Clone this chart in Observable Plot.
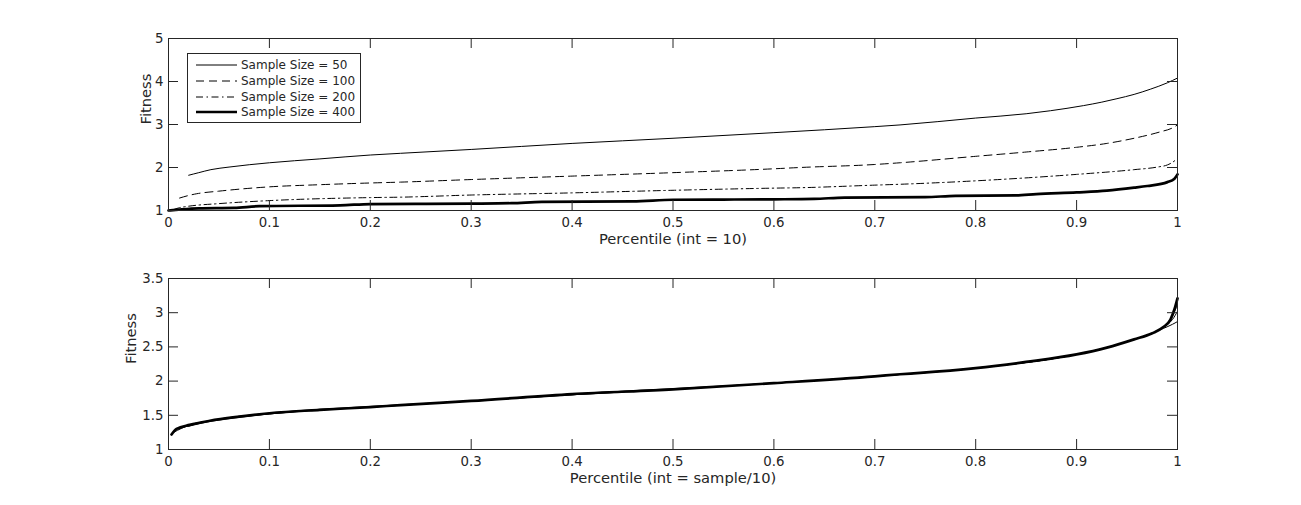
<!DOCTYPE html>
<html>
<head>
<meta charset="utf-8">
<script src="https://cdn.jsdelivr.net/npm/d3@7"></script>
<script src="https://cdn.jsdelivr.net/npm/@observablehq/plot@0.6"></script>
<style>
  html, body { margin: 0; padding: 0; background: #fff; }
  #wrap { position: relative; width: 1301px; height: 505px; background: #fff; overflow: hidden; font-family: "DejaVu Sans", sans-serif; }
  #wrap > svg { position: absolute; left: 0; }
  #legend { position: absolute; background: #fff; border: 1px solid #262626; box-sizing: border-box; }
  .row { position: absolute; left: 0; height: 16px; width: 100%; }
  .row svg { position: absolute; left: 7px; top: 0; }
  .row span { position: absolute; left: 53px; top: 0; line-height: 16px; font-size: 12px; color: #262626; white-space: nowrap; }
</style>
</head>
<body>
<div id="wrap"></div>
<script>
// ---------- data ----------
const seriesNames = ["Sample Size = 50", "Sample Size = 100", "Sample Size = 200", "Sample Size = 400"];

// Top panel (int = 10)
const pct50  = [0.02,0.03,0.042,0.06,0.1,0.15,0.2,0.23,0.3,0.4,0.5,0.6,0.7,0.725,0.8,0.85,0.874,0.907,0.925,0.94,0.957,0.973,0.99,1.0];
const fit50  = [1.82,1.88,1.95,2.01,2.11,2.2,2.29,2.33,2.42,2.56,2.68,2.81,2.95,2.99,3.15,3.25,3.32,3.44,3.52,3.60,3.70,3.82,3.97,4.08];
const pct100 = [0.011,0.02,0.028,0.05,0.1,0.15,0.2,0.23,0.3,0.4,0.5,0.6,0.626,0.7,0.725,0.8,0.85,0.9,0.93,0.957,0.983,0.995,1.0];
const fit100 = [1.29,1.35,1.39,1.45,1.55,1.6,1.64,1.66,1.72,1.80,1.88,1.97,2.0,2.07,2.11,2.26,2.36,2.47,2.56,2.68,2.83,2.92,2.99];
const pct200 = [0.005,0.01,0.02,0.05,0.1,0.2,0.23,0.3,0.4,0.5,0.6,0.626,0.7,0.725,0.8,0.9,0.957,0.98,0.99,0.995,1.0];
const fit200 = [1.02,1.06,1.1,1.16,1.23,1.3,1.31,1.36,1.41,1.47,1.52,1.53,1.59,1.61,1.69,1.84,1.95,2.01,2.06,2.12,2.21];
const pct400 = [0,0.01,0.03,0.065,0.09,0.17,0.2,0.3,0.34,0.37,0.46,0.5,0.6,0.64,0.67,0.75,0.78,0.84,0.86,0.9,0.93,0.957,0.97,0.99,0.997,1.0];
const fit400 = [1.0,1.02,1.05,1.06,1.1,1.12,1.15,1.16,1.17,1.2,1.21,1.25,1.26,1.27,1.3,1.31,1.34,1.35,1.38,1.42,1.46,1.53,1.57,1.66,1.74,1.84];

// Bottom panel (int = sample/10)
const pctB50  = [0.02,0.041,0.07,0.1,0.15,0.2,0.3,0.4,0.5,0.6,0.7,0.8,0.9,0.93,0.957,0.975,0.986,0.995,1.0];
const fitB50  = [1.34,1.41,1.47,1.52,1.58,1.62,1.71,1.80,1.88,1.97,2.07,2.19,2.39,2.49,2.61,2.70,2.77,2.83,2.87];
const pctB100 = [0.01,0.021,0.041,0.1,0.2,0.3,0.4,0.5,0.6,0.7,0.8,0.9,0.93,0.957,0.975,0.986,0.995,1.0];
const fitB100 = [1.30,1.35,1.42,1.53,1.63,1.71,1.81,1.89,1.97,2.07,2.19,2.39,2.49,2.61,2.70,2.79,2.9,3.02];
const pctB200 = [0.005,0.021,0.041,0.1,0.2,0.3,0.4,0.5,0.6,0.7,0.8,0.9,0.93,0.957,0.975,0.986,0.995,1.0];
const fitB200 = [1.25,1.36,1.42,1.52,1.62,1.71,1.80,1.88,1.97,2.07,2.19,2.39,2.49,2.61,2.70,2.79,2.95,3.12];
const pctB400 = [0.003,0.008,0.021,0.041,0.07,0.1,0.15,0.2,0.23,0.3,0.4,0.5,0.6,0.7,0.725,0.745,0.8,0.85,0.9,0.93,0.957,0.975,0.986,0.993,0.997,1.0];
const fitB400 = [1.22,1.30,1.36,1.42,1.48,1.53,1.58,1.62,1.65,1.71,1.81,1.88,1.97,2.07,2.10,2.12,2.19,2.28,2.39,2.49,2.61,2.70,2.79,2.9,3.05,3.21];

const xTicks = [0,0.1,0.2,0.3,0.4,0.5,0.6,0.7,0.8,0.9,1];
const yTicksTop = [1,2,3,4,5];
const yTicksBottom = [1,1.5,2,2.5,3,3.5];
const xLabelTop = "Percentile (int = 10)";
const xLabelBottom = "Percentile (int = sample/10)";
const yLabel = "Fitness";

// ---------- styles ----------
const INK = "#262626";
const lineStyles = [
  {strokeWidth: 1, dash: null},
  {strokeWidth: 1, dash: "8,5"},
  {strokeWidth: 1, dash: "7,3.5,1.5,3.5"},
  {strokeWidth: 2.7, dash: null}
];

function toRows(pcts, fits, name) { return pcts.map((p, i) => ({pct: p, fit: fits[i], name})); }

const topSeries = [
  toRows(pct50, fit50, seriesNames[0]),
  toRows(pct100, fit100, seriesNames[1]),
  toRows(pct200, fit200, seriesNames[2]),
  toRows(pct400, fit400, seriesNames[3])
];
const bottomSeries = [
  toRows(pctB50, fitB50, seriesNames[0]),
  toRows(pctB100, fitB100, seriesNames[1]),
  toRows(pctB200, fitB200, seriesNames[2]),
  toRows(pctB400, fitB400, seriesNames[3])
];

const W = 1301, H = 250, ML = 168, MR = 124, MT = 38;

function panel({series, yDomain, yTicks, xLabel, marginBottom, yLabelDx, dashed}) {
  const fw = W - ML - MR;
  const fh = H - MT - marginBottom;
  const marks = [];
  series.forEach((rows, i) => {
    const st = dashed ? lineStyles[i] : {strokeWidth: lineStyles[i].strokeWidth, dash: null};
    marks.push(Plot.line(rows, {x: "pct", y: "fit", stroke: "black", strokeWidth: st.strokeWidth,
      strokeDasharray: st.dash || undefined, curve: "monotone-x", strokeLinejoin: "round"}));
  });
  marks.push(
    Plot.frame({stroke: INK, strokeWidth: 1}),
    Plot.ruleX(xTicks, {x: d => d, insetTop: fh - 10, stroke: INK, strokeWidth: 1}),
    Plot.ruleX(xTicks, {x: d => d, insetBottom: fh - 10, stroke: INK, strokeWidth: 1}),
    Plot.ruleY(yTicks, {y: d => d, insetRight: fw - 10, stroke: INK, strokeWidth: 1}),
    Plot.ruleY(yTicks, {y: d => d, insetLeft: fw - 10, stroke: INK, strokeWidth: 1}),
    Plot.axisX({ticks: xTicks, tickFormat: d => String(d), tickSize: 0, tickPadding: 7, label: null, fontSize: 13.3}),
    Plot.axisY({ticks: yTicks, tickFormat: d => String(d), tickSize: 0, tickPadding: 5, label: null, fontSize: 13.3}),
    Plot.text([xLabel], {frameAnchor: "bottom", dy: 33.6, text: d => d, fontSize: 14.7, fill: INK}),
    Plot.text([yLabel], {frameAnchor: "left", dx: yLabelDx, rotate: -90, text: d => d, fontSize: 14.7, fill: INK})
  );
  return Plot.plot({
    width: W, height: H,
    marginLeft: ML, marginRight: MR, marginTop: MT, marginBottom,
    x: {domain: [0, 1]},
    y: {domain: yDomain},
    style: {background: "transparent", color: INK, fontFamily: "DejaVu Sans, sans-serif", fontSize: "13.3px", overflow: "visible"},
    marks
  });
}

const wrap = document.getElementById("wrap");
const topPlot = panel({series: topSeries, yDomain: [1, 5], yTicks: yTicksTop, xLabel: xLabelTop, marginBottom: 40, yLabelDx: -22.7, dashed: true});
topPlot.style.top = "0px";
const bottomPlot = panel({series: bottomSeries, yDomain: [1, 3.5], yTicks: yTicksBottom, xLabel: xLabelBottom, marginBottom: 41, yLabelDx: -37.7, dashed: false});
bottomPlot.style.top = "240px";
wrap.appendChild(topPlot);
wrap.appendChild(bottomPlot);

// ---------- legend ----------
const legend = document.createElement("div");
legend.id = "legend";
Object.assign(legend.style, {left: "187px", top: "53px", width: "174px", height: "70px"});
seriesNames.forEach((name, i) => {
  const row = document.createElement("div");
  row.className = "row";
  row.style.top = (3 + i * 15.8) + "px";
  const st = lineStyles[i];
  row.innerHTML = `<svg width="42" height="16"><line x1="1" y1="8" x2="42" y2="8" stroke="black" stroke-width="${st.strokeWidth}" ${st.dash ? `stroke-dasharray="${st.dash}"` : ""}/></svg><span>${name}</span>`;
  legend.appendChild(row);
});
wrap.appendChild(legend);
</script>
</body>
</html>
